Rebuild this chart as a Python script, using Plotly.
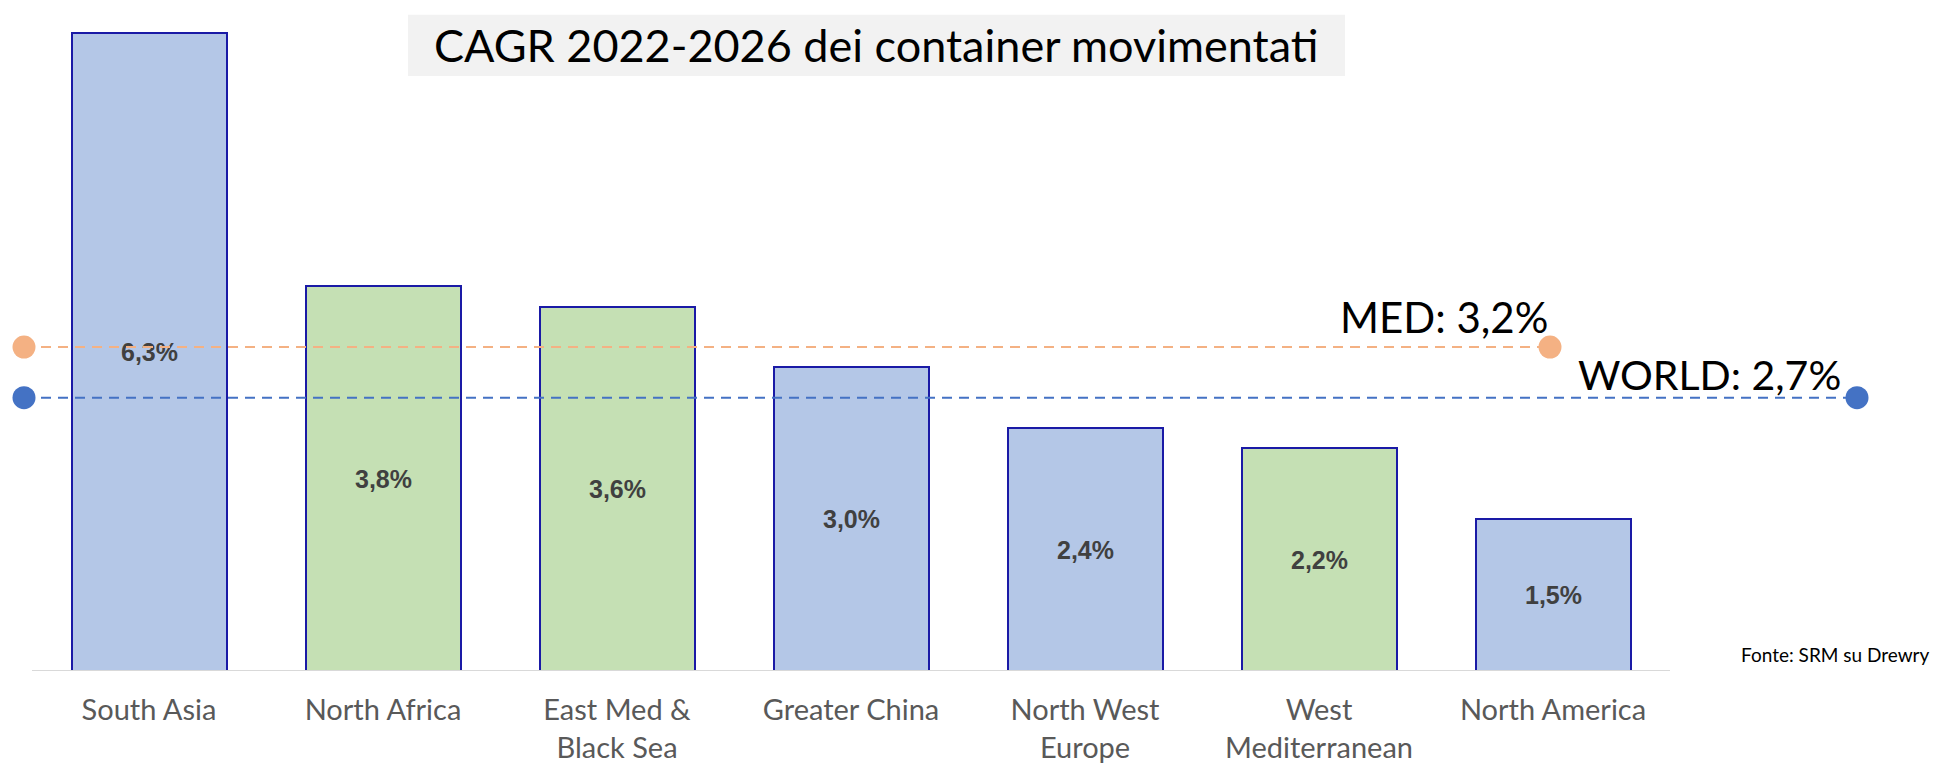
import plotly.graph_objects as go

# ---- data ----
categories = ["South Asia", "North Africa", "East Med &<br>Black Sea", "Greater China",
              "North West<br>Europe", "West<br>Mediterranean", "North America"]
cagr = [6.3, 3.8, 3.6, 3.0, 2.4, 2.2, 1.5]
is_med = [False, True, True, False, False, True, False]
med_value = 3.2
world_value = 2.7
title_text = "CAGR 2022-2026 dei container movimentati"
source_text = "Fonte: SRM su Drewry"

# ---- styling ----
W, H = 1937, 764
BASE_PX = 680          # pixel row of the baseline
PX_PER_PCT = 102.6
PX_PER_CAT = 234
FIRST_CENTER_PX = 149
BLUE_FILL, GREEN_FILL, EDGE = "#b4c7e7", "#c5e0b4", "#1a1aa6"
MED_COL, WORLD_COL = "#f4b183", "#4472c4"
GOTHIC = "Lato"

def px_to_x(px):
    return (px - FIRST_CENTER_PX) / PX_PER_CAT

def py_to_paper(py):
    return (BASE_PX - py) / BASE_PX

xs = list(range(len(categories)))
colors = [GREEN_FILL if m else BLUE_FILL for m in is_med]

fig = go.Figure()
fig.add_trace(go.Bar(
    x=xs, y=cagr,
    marker=dict(color=colors, line=dict(color=EDGE, width=2)),
    width=155 / PX_PER_CAT,
    texttemplate="%{y:.1f}%",
    textposition="inside", insidetextanchor="middle", textangle=0,
    constraintext="none",
    textfont=dict(family="Liberation Sans", size=25, color="#404040", weight="bold"),
    hoverinfo="skip", showlegend=False,
))

# reference lines (horizontal, at their values)
med_span = [px_to_x(24), px_to_x(1550)]
world_span = [px_to_x(24), px_to_x(1857)]
for val, span, col in [(med_value, med_span, MED_COL), (world_value, world_span, WORLD_COL)]:
    fig.add_trace(go.Scatter(
        x=span, y=[val, val], mode="lines",
        line=dict(color=col, width=2, dash="10px,7px"),
        hoverinfo="skip", showlegend=False,
    ))
    fig.add_trace(go.Scatter(
        x=span, y=[val, val], mode="markers",
        marker=dict(color=col, size=23),
        hoverinfo="skip", showlegend=False,
    ))

# baseline axis line across the categories
fig.add_shape(type="line", xref="x", yref="y", x0=-0.5, x1=len(categories) - 0.5,
              y0=0, y1=0, line=dict(color="#d9d9d9", width=2), layer="above")

# title box
fig.add_shape(type="rect", xref="paper", yref="paper",
              x0=408 / W, x1=1345 / W, y0=py_to_paper(77), y1=py_to_paper(15),
              fillcolor="#f2f2f2", line=dict(width=0), layer="below")
fig.add_annotation(text=title_text, xref="paper", yref="paper",
                   x=876 / W, y=py_to_paper(46), xanchor="center", yanchor="middle",
                   showarrow=False, font=dict(family=GOTHIC, size=45, color="#000000"))

fig.add_annotation(text=f"MED: {str(med_value).replace('.', ',')}%", xref="paper", yref="paper",
                   x=1550 / W, y=py_to_paper(321), xanchor="right", yanchor="middle",
                   showarrow=False, font=dict(family=GOTHIC, size=42, color="#000000"))
fig.add_annotation(text=f"WORLD: {str(world_value).replace('.', ',')}%", xref="paper", yref="paper",
                   x=1843 / W, y=py_to_paper(380), xanchor="right", yanchor="middle",
                   showarrow=False, font=dict(family=GOTHIC, size=41, color="#000000"))
fig.add_annotation(text=source_text, xref="paper", yref="paper",
                   x=1932 / W, y=py_to_paper(663), xanchor="right", yanchor="middle",
                   showarrow=False, font=dict(family=GOTHIC, size=19, color="#000000"))

fig.update_layout(
    width=W, height=H,
    margin=dict(l=0, r=0, t=0, b=H - BASE_PX, pad=0),
    paper_bgcolor="white", plot_bgcolor="white",
    separators=",.",
    bargap=0,
    xaxis=dict(range=[px_to_x(0), px_to_x(W)], tickmode="array", tickvals=xs, ticktext=categories,
               showgrid=False, zeroline=False, showline=False, ticks="",
               ticklabelstandoff=19,
               tickfont=dict(family=GOTHIC, size=29, color="#595959"), fixedrange=True),
    yaxis=dict(range=[0, BASE_PX / PX_PER_PCT], showgrid=False, zeroline=False, showline=False,
               showticklabels=False, ticks="", fixedrange=True),
)

fig.write_html("out.html", config={"displayModeBar": False},
               post_script="document.body.style.margin='0';document.body.style.overflow='hidden';")
